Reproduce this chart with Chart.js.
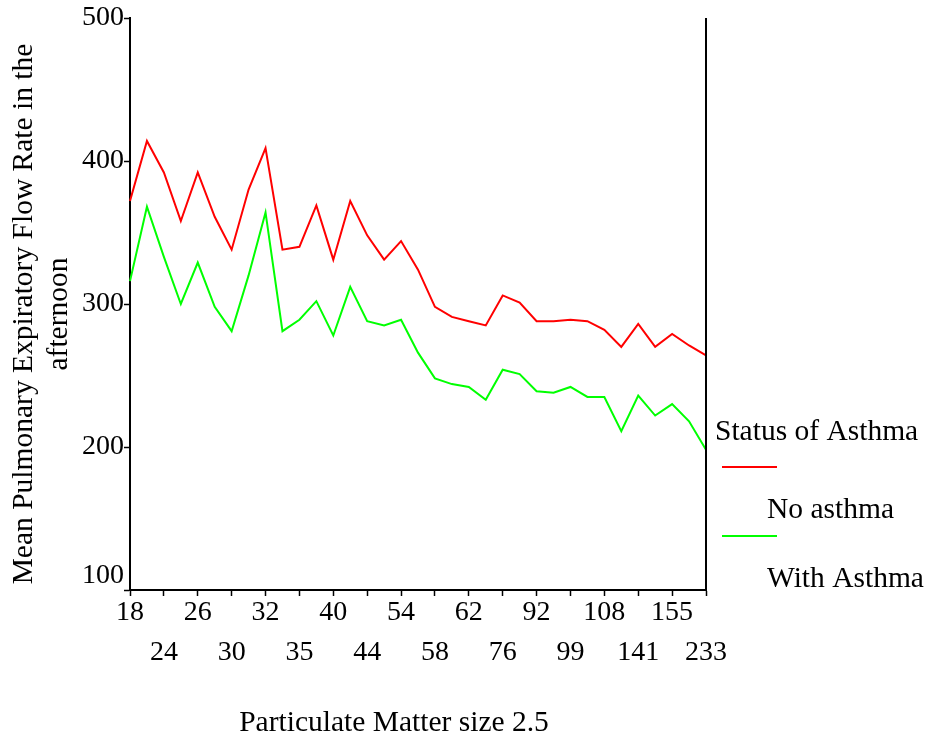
<!DOCTYPE html>
<html>
<head>
<meta charset="utf-8">
<title>PEF afternoon by PM2.5</title>
<script src="https://cdn.jsdelivr.net/npm/chart.js@4.4.1/dist/chart.umd.min.js"></script>
<style>
  html, body { margin: 0; padding: 0; background: #fff; }
</style>
</head>
<body>
<canvas id="pefChart" width="925" height="738"></canvas>
<script>
// PM2.5 values printed under the axis (every second category carries a label)
const pmLabels = ['18', '24', '26', '30', '32', '35', '40', '44', '54', '58', '62', '76', '92', '99', '108', '141', '155', '233'];

// mean PEF in the afternoon, one value per category (35)
const noAsthma = [372, 414, 392, 358, 392, 361, 338, 380, 409, 338, 340, 369, 331, 372, 348, 331, 344, 324,
  298, 291, 288, 285, 306, 301, 288, 288, 289, 288, 282, 270, 286, 270, 279, 271, 264];
const withAsthma = [316, 368, 333, 300, 329, 298, 281, 320, 364, 281, 289, 302, 278, 312, 288, 285, 289, 266,
  248, 244, 242, 233, 254, 251, 239, 238, 242, 235, 235, 211, 236, 222, 230, 218, 198];

const yTicks = [100, 200, 300, 400, 500];

const xTitle = 'Particulate Matter size 2.5';
const yTitle = ['Mean Pulmonary Expiratory Flow Rate in the', 'afternoon'];
const legendTitle = 'Status of Asthma';

// 35 categories: an unlabelled one sits between each labelled pair
const categories = [];
pmLabels.forEach((lab, i) => {
  categories.push(lab);
  if (i < pmLabels.length - 1) categories.push('');
});

const SERIF = "'Liberation Serif', 'Times New Roman', serif";
const TITLE_FONT = '29.5px ' + SERIF;
Chart.defaults.font.family = SERIF;
Chart.defaults.font.size = 28;
Chart.defaults.color = '#000';

// frame line, axis titles and the legend block on the right
const decorations = {
  id: 'decorations',
  afterDraw(chart) {
    const { ctx, chartArea: a } = chart;
    ctx.save();
    ctx.strokeStyle = '#000';
    ctx.lineWidth = 2;
    ctx.beginPath();
    ctx.moveTo(a.right, a.top);
    ctx.lineTo(a.right, a.bottom);
    ctx.stroke();

    ctx.font = TITLE_FONT;
    ctx.fillStyle = '#000';
    ctx.textBaseline = 'alphabetic';
    ctx.textAlign = 'center';
    ctx.fillText(xTitle, 394, 731);

    ctx.save();
    ctx.translate(32, 314);
    ctx.rotate(-Math.PI / 2);
    ctx.fillText(yTitle[0], 0, 0);
    ctx.fillText(yTitle[1], 0, 35);
    ctx.restore();

    // legend
    ctx.textAlign = 'left';
    ctx.fillText(legendTitle, 715, 440);
    chart.data.datasets.forEach((ds, i) => {
      const ly = 467 + i * 69;
      ctx.strokeStyle = ds.borderColor;
      ctx.lineWidth = 2;
      ctx.beginPath();
      ctx.moveTo(722, ly);
      ctx.lineTo(777, ly);
      ctx.stroke();
      ctx.fillText(ds.label, 767, ly + 51);
    });
    ctx.restore();
  }
};

new Chart(document.getElementById('pefChart'), {
  type: 'line',
  data: {
    labels: categories,
    datasets: [
      { label: 'No asthma', data: noAsthma, borderColor: '#ff0000', borderWidth: 2, pointRadius: 0, tension: 0, fill: false },
      { label: 'With Asthma', data: withAsthma, borderColor: '#00ff00', borderWidth: 2, pointRadius: 0, tension: 0, fill: false }
    ]
  },
  options: {
    responsive: false,
    animation: false,
    devicePixelRatio: 1,
    layout: { padding: { top: 18, right: 219, bottom: 0, left: 0 } },
    plugins: { legend: { display: false }, tooltip: { enabled: false } },
    scales: {
      x: {
        type: 'category',
        offset: false,
        afterFit: s => { s.height = 148; },
        // keep a tick only on the labelled categories
        afterBuildTicks: s => { s.ticks = s.ticks.filter(t => t.value % 2 === 0); },
        border: { display: true, color: '#000', width: 2 },
        grid: { drawOnChartArea: false, drawTicks: true, tickLength: 6, tickWidth: 1.5, tickColor: '#000' },
        ticks: {
          autoSkip: false,
          maxRotation: 0,
          padding: -3,
          font: { size: 28, lineHeight: 40 / 28 },
          callback: (val, i) => {
            const lab = categories[val];
            return i % 2 ? ['', lab] : [lab, ''];
          }
        }
      },
      y: {
        min: 100,
        max: 500,
        afterFit: s => { s.width = 130; },
        afterBuildTicks: s => { s.ticks = yTicks.map(v => ({ value: v })); },
        border: { display: true, color: '#000', width: 2 },
        grid: { drawOnChartArea: false, drawTicks: true, tickLength: 6, tickWidth: 1.5, tickColor: '#000' },
        ticks: {
          padding: 0,
          font: { size: 28, lineHeight: 1 },
          // the bottom label sits just above the x axis
          callback: v => (v === yTicks[0] ? [String(v), ''] : String(v))
        }
      }
    }
  },
  plugins: [decorations]
});
</script>
</body>
</html>
